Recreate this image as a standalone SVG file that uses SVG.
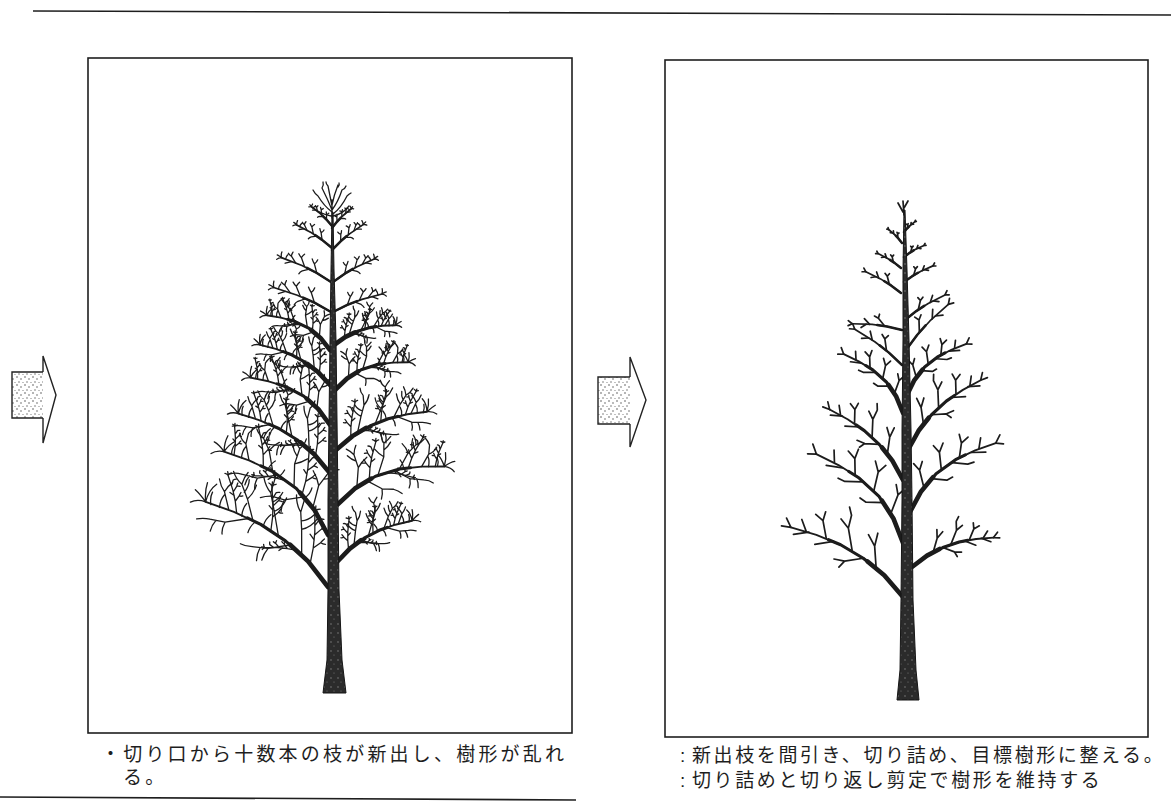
<svg xmlns="http://www.w3.org/2000/svg" width="1171" height="806" viewBox="0 0 1171 806">
  <style>
    .rule { fill:none; stroke:#1e1e1e; stroke-width:1.6 }
    .frame { fill:none; stroke:#1e1e1e; stroke-width:1.6 }
    .arrow { fill:none; stroke:#222; stroke-width:1.4; stroke-linejoin:miter }
    .cap { font-family:"Liberation Sans","Noto Sans CJK JP","Noto Sans CJK SC",sans-serif; font-size:19px; fill:#1e1e1e }
    .colon { font-family:"Liberation Sans",sans-serif; font-size:19px; fill:#1e1e1e }
    .br { fill:none; stroke:#1c1c1c; stroke-width:1.3; stroke-linecap:round; stroke-linejoin:round }
    .pr { stroke-width:1.7 }
    .br path { vector-effect:non-scaling-stroke }
    .w1 { stroke-width:4.6 } .w2 { stroke-width:3.1 } .w3 { stroke-width:1.9 }
    .s1 { stroke-width:2.5 } .s2 { stroke-width:1.7 }
    .trunk { fill:url(#bark); stroke:#151515; stroke-width:1 }
  </style>
  <defs>
    <pattern id="bark" width="7" height="9" patternUnits="userSpaceOnUse">
      <rect width="7" height="9" fill="#2b2b2b"/>
      <circle cx="2" cy="3" r="0.7" fill="#8a8a8a"/>
      <circle cx="5" cy="7" r="0.6" fill="#777"/>
    </pattern>
    <pattern id="dots" width="8" height="8" patternUnits="userSpaceOnUse">
      <circle cx="1" cy="1" r="0.8" fill="#555"/>
      <circle cx="5" cy="3" r="0.8" fill="#666"/>
      <circle cx="3" cy="6" r="0.7" fill="#555"/>
      <circle cx="7" cy="6.5" r="0.6" fill="#777"/>
    </pattern>

    <!-- pruned scaffold branch, drawn along +x from 0 to 100, upper side is -y -->
    <g id="P1" class="br pr">
      <path class="w3" d="M0,0 L20,-9 L40,-14 L60,-16 L80,-15 L100,-12"/>
      <path class="w2" d="M0,0 L20,-9 L40,-14 L60,-16 L70,-15.6"/>
      <path class="w1" d="M0,0 L20,-9 L36,-13.2"/>
      <path d="M28,-11.5 L36,-26 L38,-36 M36,-26 L44,-32 M50,-15.5 L60,-30 L62,-40 M60,-30 L68,-34 M62,-40 L66,-45 M72,-15.8 L80,-27 L81,-34 M80,-27 L87,-29 M88,-14 L95,-21 M40,-14 L52,-6 L60,-4 M52,-6 L54,0 M66,-16 L78,-8 M86,-14.5 L96,-8 M100,-12 L106,-17 M100,-12 L107,-10"/>
    </g>
    <g id="P2" class="br pr">
      <path class="w3" d="M0,0 L18,-12 L38,-20 L60,-23 L80,-22 L100,-19"/>
      <path class="w2" d="M0,0 L18,-12 L38,-20 L60,-23 L70,-22.6"/>
      <path class="w1" d="M0,0 L18,-12 L34,-18.5"/>
      <path d="M22,-14 L26,-30 L24,-38 M26,-30 L32,-36 M44,-21 L50,-36 L48,-44 M50,-36 L57,-42 M64,-23 L72,-34 L74,-42 M72,-34 L80,-36 M84,-22 L90,-30 M32,-18 L44,-10 L50,-10 M56,-22 L68,-14 L74,-13 M76,-22 L88,-16 M100,-19 L107,-24 M100,-19 L106,-15"/>
    </g>
    <g id="S1" class="br pr">
      <path class="s2" d="M0,0 L30,-6 L60,-9 L100,-9"/>
      <path class="s1" d="M0,0 L30,-6 L50,-8.3"/>
      <path d="M35,-6.6 L48,-22 L46,-30 M48,-22 L56,-26 M65,-9 L76,-20 M72,-9 L82,-2 M100,-9 L108,-15 M100,-9 L108,-5"/>
    </g>

    <!-- thin shoot cluster used inside the unpruned branches -->
    <g id="DT" class="br">
      <path d="M0,0 L30,-6 L60,-9 L100,-9 M30,-6 L40,-20 M40,-20 q-3,-4 -3,-9 M40,-20 q4,-3 7,-7 M55,-9 L66,-22 M66,-22 q-1,-5 -3,-8 M66,-22 q4,-2 7,-5 M72,-9 L84,-18 M84,-18 q1,-4 0,-8 M45,-8 L56,0 M100,-9 q3,-5 3,-10 M100,-9 q5,-2 9,-2 M100,-9 q5,2 7,6"/>
    </g>
    <g id="DS" class="br">
      <path class="s2" d="M0,0 L30,-6 L60,-9 L100,-9"/>
      <path class="s1" d="M0,0 L30,-6 L50,-8.3"/>
      <path d="M30,-6 L40,-20 M40,-20 q-3,-4 -3,-9 M40,-20 q4,-3 7,-7 M55,-9 L66,-22 M66,-22 q-1,-5 -3,-8 M66,-22 q4,-2 7,-5 M72,-9 L84,-18 M84,-18 q1,-4 0,-8 M84,-18 q4,-1 7,-3 M45,-8 L56,0 M56,0 q3,3 4,7 M80,-9 L90,-2 M100,-9 q3,-5 3,-10 M100,-9 q5,-2 9,-2 M100,-9 q5,2 7,6 M92,-9 q1,-5 -1,-9"/>
    </g>
    <!-- unpruned scaffold with dense new shoots -->
    <g id="D1" class="br">
      <path class="w3" d="M0,0 L20,-9 L40,-14 L60,-16 L80,-15 L100,-12"/>
      <path class="w2" d="M0,0 L20,-9 L40,-14 L60,-16 L70,-15.6"/>
      <path class="w1" d="M0,0 L20,-9 L36,-13.2"/>
      <path d="M26,-11 L34,-26 L40,-36 L42,-46 M34,-26 q-5,-4 -6,-11 M40,-36 q5,-3 8,-9 M42,-46 q-2,-4 -1,-8 M37,-31 q-4,-2 -6,-8
               M46,-15 L56,-28 L64,-38 L66,-48 M56,-28 q-4,-5 -3,-12 M64,-38 q5,-2 9,-7 M66,-48 q-3,-3 -3,-8 M66,-48 q3,-3 6,-5 M60,-33 q-3,-4 -3,-9
               M66,-16 L76,-27 L84,-34 M76,-27 q-2,-5 -1,-11 M84,-34 q1,-5 0,-9 M84,-34 q5,-1 9,-5 M80,-30 q-1,-5 1,-9
               M84,-15 L92,-24 M92,-24 q0,-4 -2,-8 M92,-24 q4,-2 7,-6
               M36,-13 L48,-4 L58,0 M48,-4 q1,5 0,9 M58,0 q4,2 8,2 M53,-2 q0,5 -2,9
               M70,-15 L82,-6 L92,-3 M82,-6 q0,5 -2,8 M92,-3 q4,1 8,4 M88,-4 q1,4 0,8
               M100,-12 q4,-6 5,-12 M100,-12 q6,-3 10,-4 M100,-12 q6,1 9,5 M100,-12 q2,-8 -1,-14
               M58,-16 q1,-5 -1,-9 M74,-15 q2,-5 1,-9 M90,-13 q2,-5 1,-9 M96,-12 q3,-4 3,-8 M64,-16 q2,5 1,9"/>
      <use href="#DT" transform="translate(18,-8) rotate(-62) scale(0.36)"/>
      <use href="#DT" transform="translate(52,-15.6) rotate(-58) scale(0.3)"/>
      <use href="#DT" transform="translate(78,-15.2) rotate(-44) scale(0.26)"/>
      <use href="#DT" transform="translate(30,-12) rotate(28) scale(0.22)"/>
    </g>
    <g id="D2" class="br">
      <path class="w3" d="M0,0 L18,-12 L38,-20 L60,-23 L80,-22 L100,-19"/>
      <path class="w2" d="M0,0 L18,-12 L38,-20 L60,-23 L70,-22.6"/>
      <path class="w1" d="M0,0 L18,-12 L34,-18.5"/>
      <path d="M20,-13 L24,-30 L22,-42 M24,-30 q4,-5 9,-8 M22,-42 q-3,-4 -6,-6 M22,-42 q1,-5 3,-8 M23,-36 q-4,-2 -7,-6
               M40,-20 L48,-36 L50,-48 M48,-36 q-4,-3 -7,-8 M50,-48 q-2,-4 -1,-9 M50,-48 q4,-2 7,-5 M49,-42 q4,-2 7,-6
               M60,-23 L70,-36 L78,-42 M70,-36 q-1,-5 -4,-9 M78,-42 q1,-5 -1,-9 M78,-42 q5,-1 8,-4 M74,-39 q0,-5 2,-9
               M80,-22 L88,-32 L90,-40 M88,-32 q5,-1 8,-5 M90,-40 q-1,-4 -3,-7
               M30,-17 L42,-8 L52,-6 M42,-8 q0,5 -2,9 M52,-6 q4,2 7,5
               M56,-22 L68,-13 L80,-10 M68,-13 q0,5 -2,8 M80,-10 q5,1 8,4 M74,-12 q1,4 0,8
               M100,-19 q3,-6 3,-12 M100,-19 q6,-3 10,-3 M100,-19 q6,2 8,6 M100,-19 q-1,-7 -4,-11
               M86,-21 q2,-5 1,-9 M94,-20 q2,-4 1,-8 M64,-23 q0,-5 -2,-8"/>
      <use href="#DT" transform="translate(32,-18) rotate(-66) scale(0.34)"/>
      <use href="#DT" transform="translate(68,-22.7) rotate(-50) scale(0.3)"/>
      <use href="#DT" transform="translate(92,-20.2) rotate(-58) scale(0.22)"/>
      <use href="#DT" transform="translate(48,-21.5) rotate(24) scale(0.24)"/>
    </g>
  </defs>

  <rect width="1171" height="806" fill="#ffffff"/>

  <!-- page rules -->
  <path class="rule" d="M33,11 L1171,15"/>
  <path class="rule" d="M0,797 L576,800"/>

  <!-- left panel: tree before thinning -->
  <g id="panel-before">
    <rect class="frame" x="88" y="58" width="484" height="675"/>
    <g id="tree-before">
      <use href="#D1" transform="translate(328,587) rotate(-152) scale(1.48,-1.48)"/>
      <use href="#D2" transform="translate(328,535) rotate(-152) scale(1.31,-1.31)"/>
      <use href="#D1" transform="translate(329,472) rotate(-154) scale(1.07,-1.07)"/>
      <use href="#D2" transform="translate(330,425) rotate(-160) scale(0.91,-0.91)"/>
      <use href="#D1" transform="translate(330,385) rotate(-157) scale(0.80,-0.80)"/>
      <use href="#D2" transform="translate(330,350) rotate(-162) scale(0.71,-0.71)"/>
      <use href="#DS" transform="translate(331,312) rotate(-162) scale(0.62,-0.62)"/>
      <use href="#DS" transform="translate(331,282) rotate(-159) scale(0.55,-0.55)"/>
      <use href="#DS" transform="translate(332,248) rotate(-152) scale(0.42,-0.42)"/>
      <use href="#DS" transform="translate(332,226) rotate(-142) scale(0.28,-0.28)"/>
      <use href="#D1" transform="translate(337,562) rotate(-22) scale(0.85)"/>
      <use href="#D2" transform="translate(337,505) rotate(-9) scale(1.12)"/>
      <use href="#D1" transform="translate(336,450) rotate(-16) scale(0.98)"/>
      <use href="#D2" transform="translate(335,390) rotate(-10) scale(0.77)"/>
      <use href="#D1" transform="translate(334,345) rotate(-11) scale(0.64)"/>
      <use href="#DS" transform="translate(333,312) rotate(-15) scale(0.52)"/>
      <use href="#DS" transform="translate(333,282) rotate(-24) scale(0.47)"/>
      <use href="#DS" transform="translate(332,250) rotate(-34) scale(0.40)"/>
      <use href="#DS" transform="translate(332,228) rotate(-40) scale(0.27)"/>
      <!-- crown of shoots at the leader tip -->
      <g class="br">
        <path d="M332,218 L332,200 M332,212 q-8,-6 -14,-16 M332,210 q-4,-10 -10,-22 M332,206 q-2,-10 -4,-20 M332,205 q2,-10 6,-20 M332,210 q6,-8 10,-20 M333,214 q8,-6 14,-18 M333,216 q10,-2 16,-10 M331,216 q-10,-2 -18,-8 M318,196 q-3,-2 -5,-6 M322,188 q2,-3 1,-6 M328,186 q-2,-2 -2,-4 M338,187 q2,-2 1,-4 M342,190 q3,-1 4,-4 M347,196 q2,-2 4,-3"/>
      </g>
      <path class="trunk" d="M323,693 L346,693 L342,660 L339,590 L338,500 L337,420 L336,340 L334,270 L333,212 L332,212 L331,270 L330,340 L329,420 L328,500 L328,590 L327,660 Z"/>
    </g>
  </g>

  <!-- right panel: tree after thinning -->
  <g id="panel-after">
    <rect class="frame" x="665" y="60" width="483" height="677"/>
    <g id="tree-after">
      <use href="#P1" transform="translate(903,597) rotate(-155) scale(1.31,-1.31)"/>
      <use href="#P2" transform="translate(903,543) rotate(-145) scale(1.22,-1.22)"/>
      <use href="#P1" transform="translate(903,480) rotate(-143) scale(1.01,-1.01)"/>
      <use href="#P2" transform="translate(903,413) rotate(-146) scale(0.82,-0.82)"/>
      <use href="#S1" transform="translate(902,365) rotate(-148) scale(0.59,-0.59)"/>
      <use href="#S1" transform="translate(902,330) rotate(-178) scale(0.50,-0.50)"/>
      <use href="#S1" transform="translate(901,293) rotate(-154) scale(0.41,-0.41)"/>
      <use href="#S1" transform="translate(901,268) rotate(-153) scale(0.27,-0.27)"/>
      <use href="#S1" transform="translate(902,243) rotate(-140) scale(0.19,-0.19)"/>
      <use href="#P1" transform="translate(912,567) rotate(-13) scale(0.86)"/>
      <use href="#P2" transform="translate(910,512) rotate(-28) scale(1.08)"/>
      <use href="#P1" transform="translate(908,450) rotate(-37) scale(1.00)"/>
      <use href="#P2" transform="translate(907,395) rotate(-30) scale(0.77)"/>
      <use href="#S1" transform="translate(906,350) rotate(-42) scale(0.62)"/>
      <use href="#S1" transform="translate(905,320) rotate(-27) scale(0.47)"/>
      <use href="#S1" transform="translate(904,282) rotate(-24) scale(0.33)"/>
      <use href="#S1" transform="translate(904,257) rotate(-25) scale(0.23)"/>
      <use href="#S1" transform="translate(904,232) rotate(-38) scale(0.15)"/>
      <g class="br pr">
        <path d="M904,215 L903,201 M903,212 L898,203 M904,208 L908,201"/>
      </g>
      <path class="trunk" d="M897,700 L919,700 L916,670 L913,600 L912,500 L911,430 L909,340 L907,270 L905,210 L904,210 L903,270 L903,340 L902,430 L902,500 L901,600 L900,670 Z"/>
    </g>
  </g>

  <!-- step arrows -->
  <g id="arrow-1">
    <rect x="12" y="372" width="31" height="46" fill="url(#dots)"/>
    <path class="arrow" d="M43,372 L12,372 L12,418 L43,418 M43,372 L43,356 L56,395 L43,443 L43,418"/>
  </g>
  <g id="arrow-2">
    <rect x="598" y="377" width="32" height="47" fill="url(#dots)"/>
    <path class="arrow" d="M630,377 L598,377 L598,424 L630,424 M630,377 L630,357 L646,400 L630,447 L630,424"/>
  </g>

  <!-- captions -->
  <g id="caption-before">
    <text class="cap" letter-spacing="3.2"><tspan x="101" y="761">・切り口から十数本の枝が新出し、樹形が乱れ</tspan><tspan x="123" y="784">る。</tspan></text>
  </g>
  <g id="caption-after">
    <text class="colon" x="680" y="762">:</text>
    <text class="cap" x="692" y="762" letter-spacing="2.6">新出枝を間引き、切り詰め、目標樹形に整える。</text>
    <text class="colon" x="680" y="787">:</text>
    <text class="cap" x="692" y="787" letter-spacing="2.6">切り詰めと切り返し剪定で樹形を維持する</text>
  </g>
</svg>
